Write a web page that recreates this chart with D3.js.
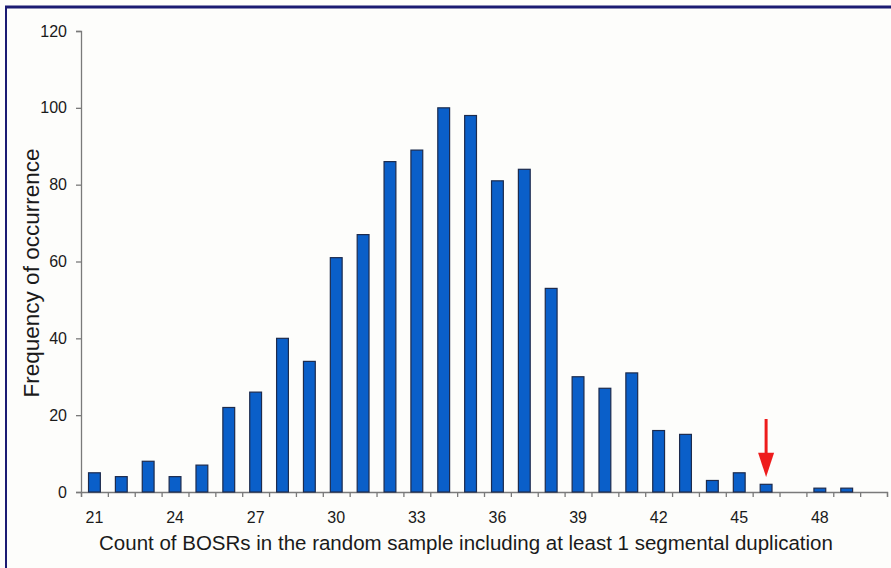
<!DOCTYPE html>
<html>
<head>
<meta charset="utf-8">
<script src="https://cdn.jsdelivr.net/npm/d3@7"></script>
<style>
  html, body { margin: 0; padding: 0; background: #fdfdfb; }
  text { font-family: "Liberation Sans", Arial, sans-serif; }
</style>
</head>
<body>
<div id="plot"></div>
<script>
// chart data
var counts = d3.range(21, 51);
var frequency = [5, 4, 8, 4, 7, 22, 26, 40, 34, 61, 67, 86, 89, 100, 98, 81, 84, 53, 30, 27, 31, 16, 15, 3, 5, 2, 0, 1, 1, 0];
var xTickLabels = [21, 24, 27, 30, 33, 36, 39, 42, 45, 48];
var yTicks = [0, 20, 40, 60, 80, 100, 120];
var markedCount = 46;

var W = 891, H = 568;
var margin = {top: 31, right: 4, bottom: 76, left: 81},
    width = W - margin.left - margin.right,
    height = H - margin.top - margin.bottom;

var svg = d3.select("#plot")
  .append("svg")
    .attr("width", W)
    .attr("height", H);

// frame round the picture
svg.append("rect")
    .attr("x", 0).attr("y", 0)
    .attr("width", W).attr("height", H)
    .style("fill", "#fdfdfb");
svg.append("line")
    .attr("x1", 5).attr("x2", W).attr("y1", 7).attr("y2", 7)
    .attr("stroke", "#1b1b72").attr("stroke-width", 3);
svg.append("line")
    .attr("x1", 6).attr("x2", 6).attr("y1", 6).attr("y2", H)
    .attr("stroke", "#1b1b72").attr("stroke-width", 2);

var g = svg.append("g")
    .attr("transform", "translate(" + margin.left + "," + margin.top + ")");

var x = d3.scaleBand()
    .domain(counts)
    .range([0, width])
    .paddingInner(0.56)
    .paddingOuter(0.28);

var y = d3.scaleLinear()
    .domain([0, 120])
    .range([height, 0]);

// Y axis
var yAxis = g.append("g")
    .call(d3.axisLeft(y).tickValues(yTicks).tickSize(5).tickPadding(9));
yAxis.selectAll("text").style("font-size", "16px").style("fill", "#1a1a1a");

// X axis: ticks sit between categories, labels every 3rd
var xLin = d3.scaleLinear().domain([20.5, 50.5]).range([0, width]);
g.append("g")
    .attr("transform", "translate(0," + height + ")")
    .call(d3.axisBottom(xLin).tickValues(d3.range(20.5, 51, 1)).tickSize(5).tickFormat(""));
g.append("g")
    .attr("transform", "translate(0," + height + ")")
    .selectAll("text")
    .data(xTickLabels)
    .enter()
    .append("text")
      .attr("x", function (d) { return x(d) + x.bandwidth() / 2; })
      .attr("y", 30.5)
      .attr("text-anchor", "middle")
      .style("font-size", "16px")
      .style("fill", "#1a1a1a")
      .text(function (d) { return d; });

g.selectAll(".domain, .tick line").attr("stroke", "#7a7a7a").attr("stroke-width", 1.3);

// bars
g.append("g")
  .selectAll("rect")
  .data(frequency)
  .enter()
  .append("rect")
    .attr("x", function (d, i) { return x(counts[i]); })
    .attr("y", function (d) { return y(d); })
    .attr("width", x.bandwidth())
    .attr("height", function (d) { return height - y(d); })
    .style("fill", function (d) { return d > 0 ? "#0a5fc9" : "none"; })
    .style("stroke", function (d) { return d > 0 ? "#1d2b4d" : "none"; })
    .style("stroke-width", 1.2);

// red arrow over the observed count
var ax = x(markedCount) + x.bandwidth() / 2;
g.append("line")
    .attr("x1", ax).attr("x2", ax)
    .attr("y1", y(19)).attr("y2", y(9))
    .attr("stroke", "#ee1c1c").attr("stroke-width", 3);
g.append("path")
    .attr("d", "M" + (ax - 8) + "," + y(10.2) + "L" + (ax + 8) + "," + y(10.2) + "L" + ax + "," + y(3.9) + "Z")
    .style("fill", "#ee1c1c");

// X axis label
svg.append("text")
    .attr("text-anchor", "middle")
    .attr("x", 466)
    .attr("y", 550)
    .style("font-size", "20.5px")
    .style("fill", "#1a1a1a")
    .text("Count of BOSRs in the random sample including at least 1 segmental duplication");

// Y axis label
svg.append("text")
    .attr("text-anchor", "middle")
    .attr("transform", "rotate(-90)")
    .attr("x", -273)
    .attr("y", 39)
    .style("font-size", "22.5px")
    .style("fill", "#1a1a1a")
    .text("Frequency of occurrence");
</script>
</body>
</html>
